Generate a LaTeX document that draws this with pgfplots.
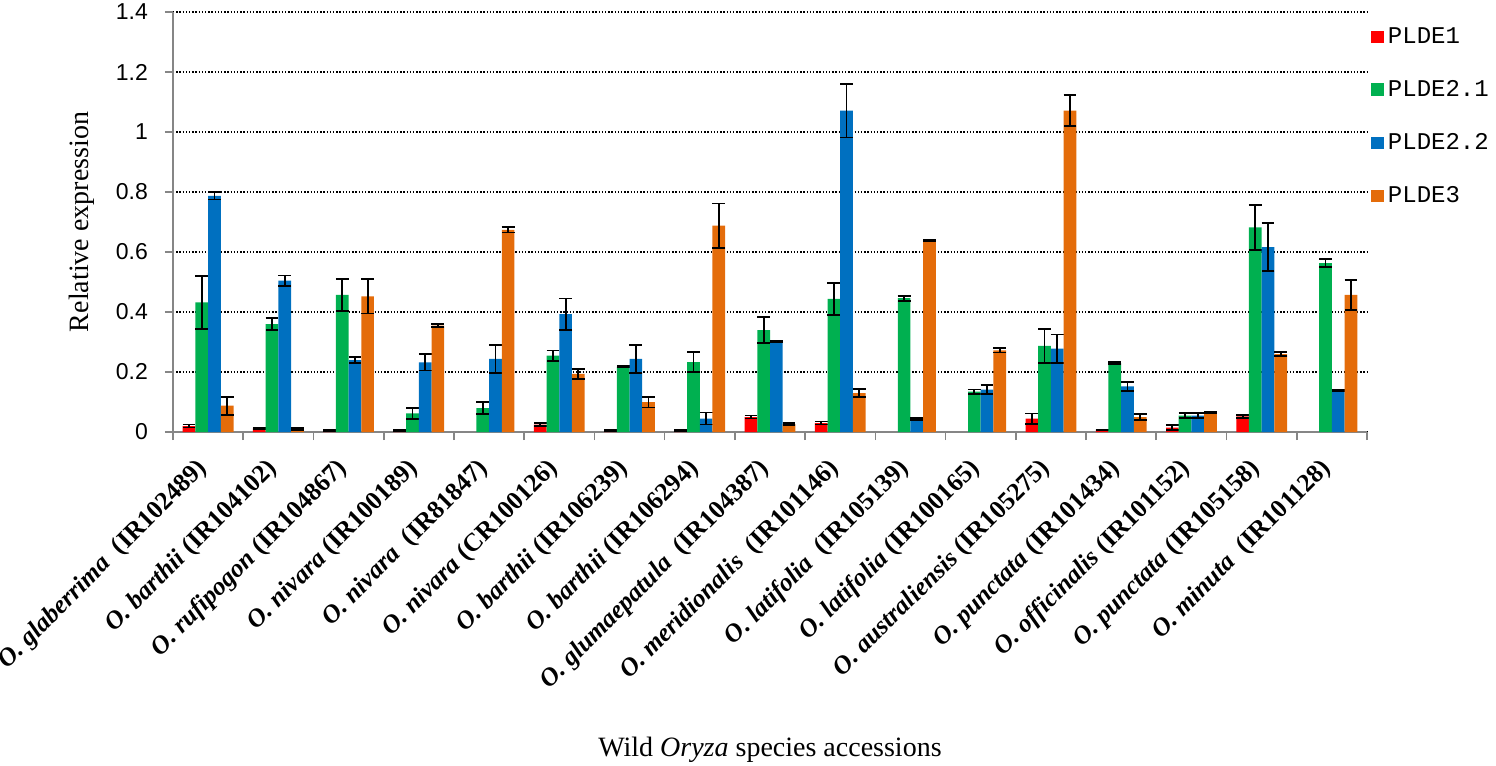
\documentclass[border=0pt]{standalone}
\usepackage{fontspec}
\setmainfont{Liberation Serif}
\newfontfamily\sans{Liberation Sans}
\newfontfamily\mono{Liberation Mono}
\usepackage{pgfplots}
\pgfplotsset{compat=1.18}
\usepackage{pgfplotstable}

\definecolor{pRed}{HTML}{FF0000}
\definecolor{pGreen}{HTML}{00B050}
\definecolor{pBlue}{HTML}{0070C0}
\definecolor{pOrange}{HTML}{E46C0A}
\definecolor{axgray}{HTML}{868686}

% PLDE1 (no bar where the value is zero)
\pgfplotstableread{
x  y      e
0  0.020  0.005
1  0.012  0.003
2  0.005  0.002
3  0.004  0.002
5  0.025  0.005
6  0.004  0.002
7  0.004  0.002
8  0.050  0.005
9  0.030  0.005
12 0.045  0.017
13 0.006  0.001
14 0.015  0.008
15 0.052  0.004
}\tabRed
% PLDE2.1
\pgfplotstableread{
x  y      e
0  0.432  0.089
1  0.360  0.020
2  0.457  0.054
3  0.062  0.018
4  0.080  0.021
5  0.255  0.017
6  0.218  0.003
7  0.233  0.033
8  0.340  0.043
9  0.444  0.053
10 0.446  0.008
11 0.135  0.007
12 0.287  0.057
13 0.230  0.003
14 0.055  0.009
15 0.682  0.074
16 0.563  0.014
}\tabGreen
% PLDE2.2
\pgfplotstableread{
x  y      e
0  0.787  0.012
1  0.505  0.017
2  0.240  0.010
3  0.232  0.027
4  0.244  0.047
5  0.393  0.052
6  0.244  0.047
7  0.045  0.020
8  0.302  0.003
9  1.071  0.089
10 0.043  0.004
11 0.141  0.015
12 0.278  0.047
13 0.152  0.014
14 0.055  0.009
15 0.616  0.080
16 0.139  0.002
}\tabBlue
% PLDE3
\pgfplotstableread{
x  y      e
0  0.088  0.030
1  0.011  0.003
2  0.452  0.057
3  0.355  0.004
4  0.674  0.009
5  0.194  0.017
6  0.100  0.018
7  0.688  0.074
8  0.026  0.003
9  0.130  0.014
10 0.638  0.003
11 0.272  0.007
12 1.071  0.051
13 0.050  0.011
14 0.065  0.003
15 0.260  0.007
16 0.457  0.051
}\tabOrange

\newcommand{\acc}[2]{\textit{O. #1}~(#2)}
\newcommand{\accw}[2]{\textit{O. #1}~\ (#2)}

\begin{document}
\begin{tikzpicture}
\useasboundingbox (-86.5pt,-167pt) rectangle (661.5pt,216pt);
\begin{axis}[
  at={(0,0)}, anchor=south west,
  scale only axis, width=597pt, height=210pt,
  ybar=0pt, bar width=6.35pt,
  xmin=-0.5, xmax=16.5, ymin=0, ymax=1.4,
  axis x line*=bottom, axis y line*=left,
  axis line style={axgray, line width=0.8pt, -},
  tick style={axgray, line width=0.8pt},
  tick align=outside, major tick length=4pt,
  xtick={-0.5,0.5,...,16.5}, xticklabels={},
  extra x ticks={0,1,...,16},
  extra x tick style={major tick length=0pt, grid=none},
  extra x tick labels={
    {\accw{glaberrima}{IR102489}},
    {\acc{barthii}{IR104102}},
    {\acc{rufipogon}{IR104867}},
    {\acc{nivara}{IR100189}},
    {\accw{nivara}{IR81847}},
    {\acc{nivara}{CR100126}},
    {\acc{barthii}{IR106239}},
    {\acc{barthii}{IR106294}},
    {\accw{glumaepatula}{IR104387}},
    {\accw{meridionalis}{IR101146}},
    {\accw{latifolia}{IR105139}},
    {\acc{latifolia}{IR100165}},
    {\acc{australiensis}{IR105275}},
    {\acc{punctata}{IR101434}},
    {\acc{officinalis}{IR101152}},
    {\acc{punctata}{IR105158}},
    {\accw{minuta}{IR101128}}},
  xticklabel shift=14pt,
  xticklabel style={rotate=45, anchor=east, font=\bfseries\fontsize{12.8}{15}\selectfont},
  ytick={0,0.2,0.4,0.6,0.8,1,1.2,1.4},
  yticklabel shift=5pt,
  yticklabel style={font=\sans\fontsize{11.5}{13}\selectfont},
  /pgf/number format/assume math mode=true,
  ymajorgrids,
  major grid style={black, line width=0.7pt, dash pattern=on 0.7pt off 0.9pt},
  ylabel={Relative expression},
  ylabel style={at={(axis description cs:-0.076,0.5)}, anchor=center, font=\fontsize{14}{16}\selectfont},
  xlabel={Wild \textit{Oryza} species accessions},
  xlabel style={at={(axis description cs:0.5,-0.757)}, anchor=center, font=\fontsize{14}{16}\selectfont},
  legend style={at={(1.003,0.974)}, anchor=north west, draw=none, fill=none,
    font=\mono\fontsize{12}{14}\selectfont, row sep=13pt, inner sep=0pt,
    cells={anchor=west}},
  sq/.style={legend image code/.code={\fill[##1] (0pt,-3.1pt) rectangle (6.5pt,3.1pt);}},
  errs/.style={
    /pgfplots/error bars/y dir=both,
    /pgfplots/error bars/y explicit,
    /pgfplots/error bars/error bar style={black, line width=0.9pt},
    /pgfplots/error bars/error mark options={black, rotate=90, mark size=3.2pt, line width=0.9pt}},
]
\addplot[fill=pRed, draw=none, sq, errs] table[x=x, y=y, y error=e] {\tabRed};
\addplot[fill=pGreen, draw=none, sq, errs] table[x=x, y=y, y error=e] {\tabGreen};
\addplot[fill=pBlue, draw=none, sq, errs] table[x=x, y=y, y error=e] {\tabBlue};
\addplot[fill=pOrange, draw=none, sq, errs] table[x=x, y=y, y error=e] {\tabOrange};
\legend{PLDE1, PLDE2.1, PLDE2.2, PLDE3}
\end{axis}
\end{tikzpicture}
\end{document}
